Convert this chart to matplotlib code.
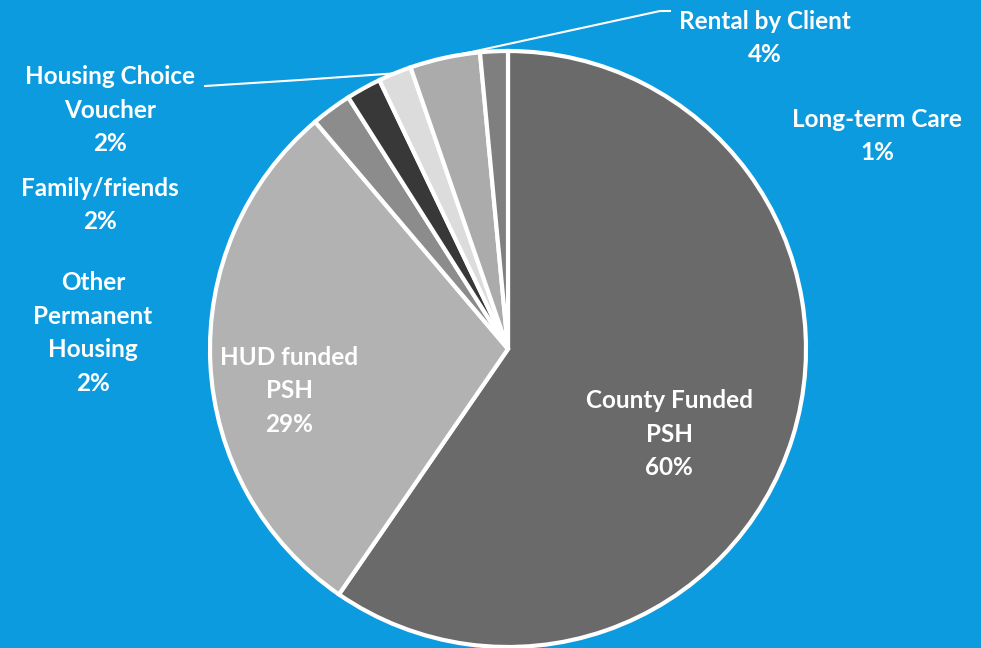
import numpy as np
import matplotlib
matplotlib.use("Agg")
import matplotlib.pyplot as plt

# data (clockwise from top)
names = ["County Funded\nPSH", "HUD funded\nPSH", "Other\nPermanent\nHousing",
         "Family/friends", "Housing Choice\nVoucher", "Rental by Client", "Long-term Care"]
shares = [59.6, 29.2, 2.2, 1.9, 1.8, 3.8, 1.5]
pct_labels = ["60%", "29%", "2%", "2%", "2%", "4%", "1%"]
colors = ["#6a6a6a", "#b2b2b2", "#8c8c8c", "#383838", "#dcdcdc", "#ababab", "#7f7f7f"]

bg = "#0b9bde"
W, H = 981, 648

fig = plt.figure(figsize=(9.81, 6.48), dpi=100, facecolor=bg)
cx, cy, r = 508, 349, 298
ax = fig.add_axes([(cx - r) / W, 1 - (cy + r) / H, 2 * r / W, 2 * r / H])
ax.set_facecolor(bg)

wedges, _ = ax.pie(shares, colors=colors, startangle=90, counterclock=False,
                   wedgeprops=dict(edgecolor="white", linewidth=3))
ax.set_xlim(-1.0, 1.0)
ax.set_ylim(-1.0, 1.0)
ax.set_aspect("equal")
ax.axis("off")

font = dict(family="Lato", fontweight="bold", color="white", fontsize=17.5,
            ha="center", va="center", linespacing=1.55)

def put(x, y, s):
    fig.text(x / W, 1 - y / H, s, **font)

# label positions in pixel coordinates (centre of text block)
pos = [(669, 434), (289, 391), (93, 333), (100, 205), (110, 110), (765, 38), (877, 136)]
for i, (x, y) in enumerate(pos):
    put(x, y, names[i] + "\n" + pct_labels[i])

# leader lines for two small slices
def edge_point(w):
    ang = np.deg2rad((w.theta1 + w.theta2) / 2)
    return np.cos(ang), np.sin(ang)

def to_ax(px, py):
    return ax.transData.inverted().transform(fig.transFigure.transform((px / W, 1 - py / H)))

ex, ey = edge_point(wedges[4])
p1 = to_ax(300, 80); p0 = to_ax(205, 86)
ax.plot([ex, p1[0], p0[0]], [ey, p1[1], p0[1]], color="white", lw=1.5, clip_on=False)

ex, ey = edge_point(wedges[5])
p1 = to_ax(660, 11); p0 = to_ax(670, 11)
ax.plot([ex, p1[0], p0[0]], [ey, p1[1], p0[1]], color="white", lw=1.5, clip_on=False)

fig.savefig("out.png", dpi=100, facecolor=bg)
